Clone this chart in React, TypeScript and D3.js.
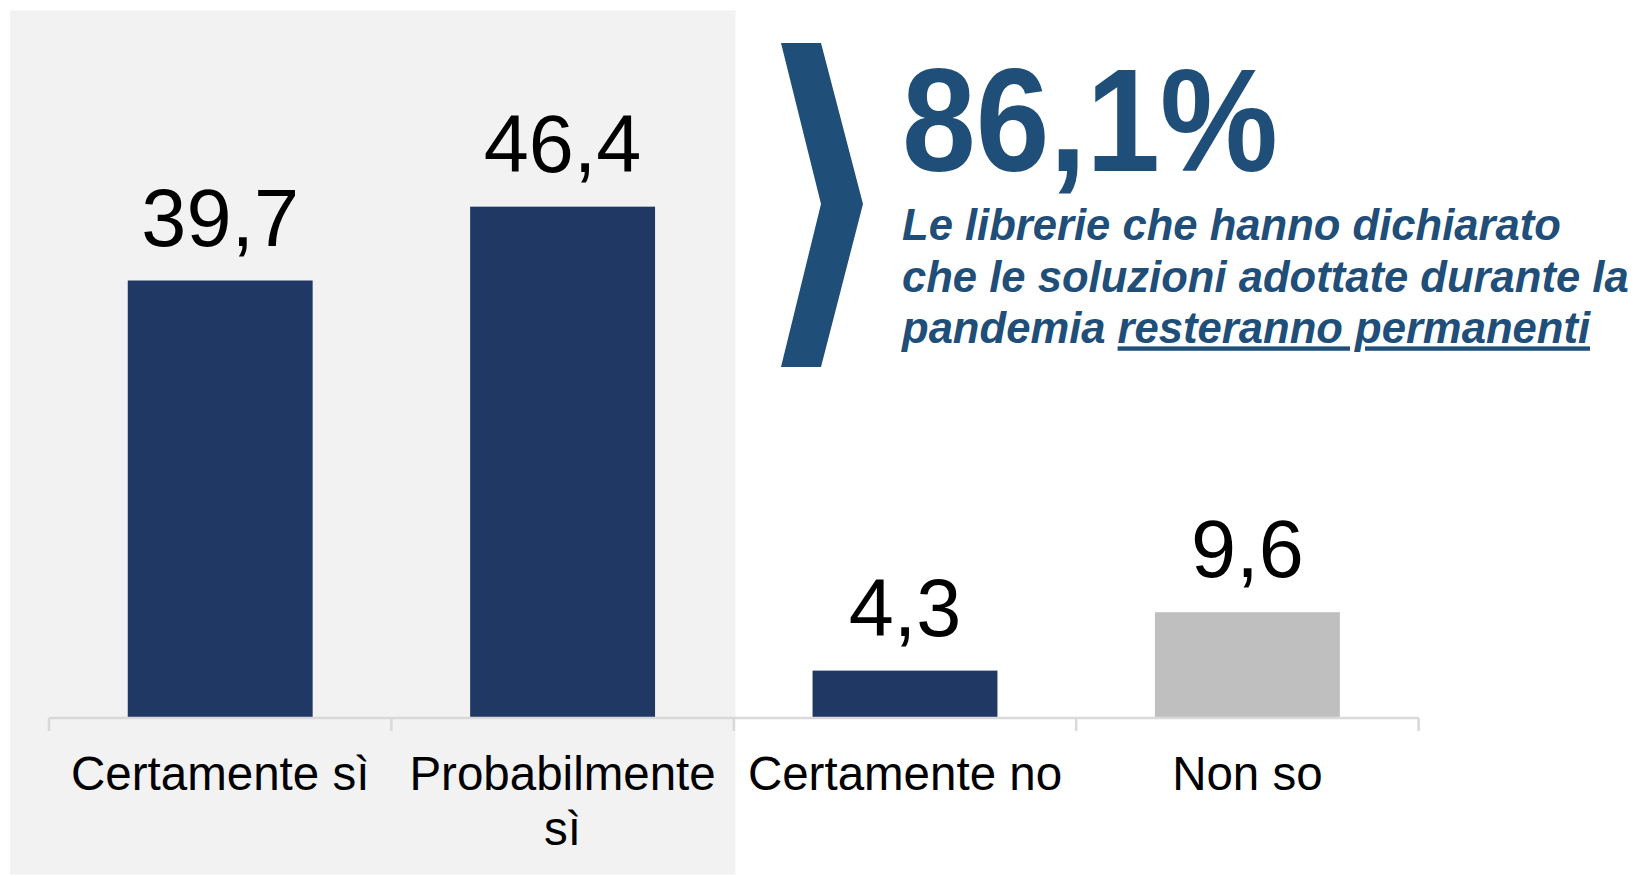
import React from "react";
import * as d3 from "d3";

const categories: string[] = ["Certamente sì", "Probabilmente sì", "Certamente no", "Non so"];
const values: number[] = [39.7, 46.4, 4.3, 9.6];
const barKinds: string[] = ["yes", "yes", "yes", "unknown"];
const headline = "86,1%";
const noteLines: string[] = ["Le librerie che hanno dichiarato", "che le soluzioni adottate durante la"];
const noteLastPlain = "pandemia ";
const noteLastUnderlined = "resteranno permanenti";

const W = 1634;
const H = 876;
const FONT = "'Liberation Sans', Arial, sans-serif";
const NAVY = "#203864";
const GREY = "#bfbfbf";
const BLUE = "#1f4e79";

function measure(text: string, font: string): number {
  const c = document.createElement("canvas").getContext("2d");
  if (!c) return text.length * 20;
  c.font = font;
  return c.measureText(text).width;
}

function wrap(text: string, width: number, font: string): string[] {
  const words = text.split(" ");
  const lines: string[] = [];
  let cur = "";
  for (const w of words) {
    const t = cur ? cur + " " + w : w;
    if (measure(t, font) > width && cur) {
      lines.push(cur);
      cur = w;
    } else cur = t;
  }
  if (cur) lines.push(cur);
  return lines;
}

export default function App() {
  const x = d3
    .scaleBand<string>()
    .domain(categories)
    .range([49, 1418.6])
    .paddingInner(0.46)
    .paddingOuter(0.23);
  const y = d3.scaleLinear().domain([0, 50]).range([718, 718 - 50 * 11.02]);
  const color = d3.scaleOrdinal<string, string>().domain(["yes", "unknown"]).range([NAVY, GREY]);

  const [r0, r1] = x.range();
  const boundaries = d3.range(categories.length + 1).map((i) => r0 + i * x.step());
  const labelSize = 47.5;
  const labelFont = `${labelSize}px ${FONT}`;

  const chevron = d3.path();
  chevron.moveTo(781, 43);
  chevron.lineTo(821, 43);
  chevron.lineTo(863, 204);
  chevron.lineTo(821, 367);
  chevron.lineTo(781, 367);
  chevron.lineTo(821, 204);
  chevron.closePath();

  return (
    <div style={{ position: "absolute", left: 0, top: 0 }}>
      <svg width={W} height={H} style={{ display: "block" }}>
        <rect x={0} y={0} width={W} height={H} fill="#ffffff" />
        <rect x={10} y={10.5} width={725.5} height={864} fill="#f2f2f2" />

        {categories.map((c, i) => (
          <rect
            key={c}
            x={x(c)}
            y={y(values[i])}
            width={x.bandwidth()}
            height={y(0) - y(values[i])}
            fill={color(barKinds[i])}
          />
        ))}

        {categories.map((c, i) => (
          <text
            key={c + "v"}
            x={(x(c) as number) + x.bandwidth() / 2}
            y={y(values[i]) - 35}
            textAnchor="middle"
            fontFamily={FONT}
            fontSize={81}
            fill="#000"
          >
            {d3.format(".1f")(values[i]).replace(".", ",")}
          </text>
        ))}

        <line x1={r0} x2={r1} y1={y(0)} y2={y(0)} stroke="#d9d9d9" strokeWidth={2.5} />
        {boundaries.map((b, i) => (
          <line key={i} x1={b} x2={b} y1={y(0)} y2={y(0) + 13} stroke="#d9d9d9" strokeWidth={2.5} />
        ))}

        {categories.map((c) => {
          const lines = wrap(c, x.step() - 12, labelFont);
          return (
            <text
              key={c + "l"}
              x={(x(c) as number) + x.bandwidth() / 2}
              y={790}
              textAnchor="middle"
              fontFamily={FONT}
              fontSize={labelSize}
              fill="#000"
            >
              {lines.map((l, j) => (
                <tspan key={j} x={(x(c) as number) + x.bandwidth() / 2} dy={j === 0 ? 0 : 55}>
                  {l}
                </tspan>
              ))}
            </text>
          );
        })}

        <path d={chevron.toString()} fill={BLUE} />

        <text
          x={902}
          y={170.7}
          fontFamily={FONT}
          fontWeight="bold"
          fontSize={146}
          fill={BLUE}
          textLength={376}
          lengthAdjust="spacingAndGlyphs"
        >
          {headline}
        </text>

        {noteLines.map((l, i) => (
          <text
            key={i}
            x={902}
            y={240 + i * 51.7}
            fontFamily={FONT}
            fontWeight="bold"
            fontStyle="italic"
            fontSize={43.6}
            fill={BLUE}
          >
            {l}
          </text>
        ))}
        <text x={902} y={343.4} fontFamily={FONT} fontWeight="bold" fontStyle="italic" fontSize={43.6} fill={BLUE}>
          {noteLastPlain}
          <tspan textDecoration="underline" style={{ textDecoration: "underline" }}>
            {noteLastUnderlined}
          </tspan>
        </text>
      </svg>
    </div>
  );
}
